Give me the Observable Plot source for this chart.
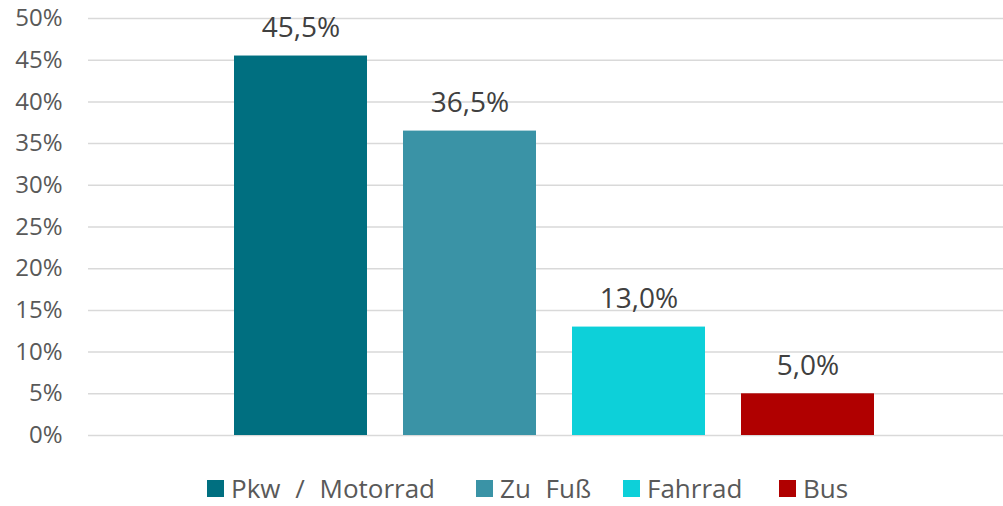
<!DOCTYPE html>
<html>
<head>
<meta charset="utf-8">
<script src="https://cdn.jsdelivr.net/npm/d3@7"></script>
<script src="https://cdn.jsdelivr.net/npm/@observablehq/plot@0.6"></script>
<style>
  html, body { margin: 0; padding: 0; background: #fff; }
  body { width: 1003px; height: 506px; overflow: hidden; font-family: "Open Sans", "Noto Sans", sans-serif; }
  #legend { position: relative; height: 56px; }
  .item { position: absolute; top: 23px; display: flex; align-items: center; font-size: 26px; line-height: 30px; color: #595959; word-spacing: 8px; }
  .sw { width: 17px; height: 17px; margin-right: 7px; }
</style>
</head>
<body>
<div id="chart"></div>
<div id="legend"></div>
<script>
const categories = ["Pkw / Motorrad", "Zu Fuß", "Fahrrad", "Bus"];
const values = [45.5, 36.5, 13.0, 5.0];
const colors = ["#006F80", "#3A93A6", "#0DD0D9", "#B00000"];
const yTicks = [0, 5, 10, 15, 20, 25, 30, 35, 40, 45, 50];
const legendLeft = [207, 476, 623, 779];

const data = categories.map((c, i) => ({cat: c, value: values[i]}));

const chart = Plot.plot({
  width: 1003,
  height: 450,
  marginLeft: 88,
  marginRight: 0,
  marginTop: 18,
  marginBottom: 15,
  style: {fontFamily: "'Open Sans', 'Noto Sans', sans-serif", background: "#fff"},
  x: {domain: categories, range: [216, 892], paddingInner: 0.213, paddingOuter: 0.1065, axis: null},
  y: {domain: [0, 50], axis: null},
  color: {domain: categories, range: colors},
  marks: [
    Plot.gridY(yTicks, {stroke: "#d9d9d9", strokeOpacity: 1, strokeWidth: 1.5}),
    Plot.axisY(yTicks, {tickFormat: d => d + "%", tickSize: 0, tickPadding: 26, fontSize: 24, color: "#595959", label: null}),
    Plot.barY(data, {x: "cat", y: "value", fill: "cat"}),
    Plot.text(data, {x: "cat", y: "value", text: d => d.value.toFixed(1).replace(".", ",") + "%", dy: -19, lineAnchor: "bottom", fontSize: 28, fill: "#404040"})
  ]
});
document.getElementById("chart").appendChild(chart);

const legend = document.getElementById("legend");
categories.forEach((c, i) => {
  const item = document.createElement("div");
  item.className = "item";
  item.style.left = legendLeft[i] + "px";
  const sw = document.createElement("div");
  sw.className = "sw";
  sw.style.background = colors[i];
  const label = document.createElement("span");
  label.textContent = c;
  item.appendChild(sw);
  item.appendChild(label);
  legend.appendChild(item);
});
</script>
</body>
</html>
